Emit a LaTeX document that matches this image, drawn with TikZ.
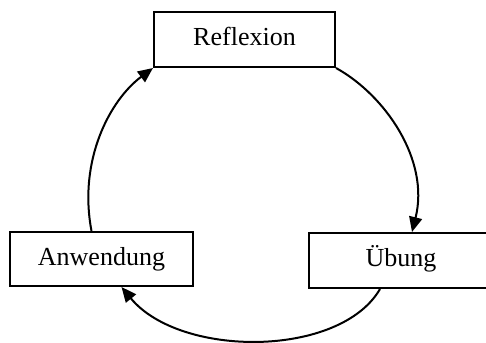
\documentclass[tikz,border=0pt]{standalone}
\usepackage{fontspec}
\setmainfont{Liberation Serif}
\usetikzlibrary{arrows.meta}
\begin{document}
\begin{tikzpicture}[x=0.5pt,y=-0.5pt,
  stagebox/.style={draw,line width=1pt,inner sep=0pt,
    font=\fontsize{13}{15}\selectfont,text height=0.85em,text depth=0.22em},
  cycle/.style={line width=1pt,-{Triangle[length=7.5pt,width=6.5pt]}}]
\useasboundingbox (0,0) rectangle (486,342);
\clip (0,0) rectangle (486,342);
% the three stages of the learning cycle
\node[stagebox,minimum width=90.5pt,minimum height=27.5pt] (refl) at (244.5,39.5) {Reflexion};
\node[stagebox,minimum width=92pt,minimum height=27.5pt] (ueb) at (401,260.5) {Übung};
\node[stagebox,minimum width=91.5pt,minimum height=27pt] (anw) at (101.5,259) {Anwendung};
% curved arrows linking the stages
\draw[cycle] (refl.south east) .. controls (385,95) and (430,160) .. ([xshift=5.5pt]ueb.north);
\draw[cycle] ([xshift=-10.5pt]ueb.south) .. controls (340,358) and (180,358) .. ([xshift=10pt]anw.south);
\draw[cycle] ([xshift=-5pt]anw.north) .. controls (78,160) and (110,100) .. (refl.south west);
\end{tikzpicture}
\end{document}
